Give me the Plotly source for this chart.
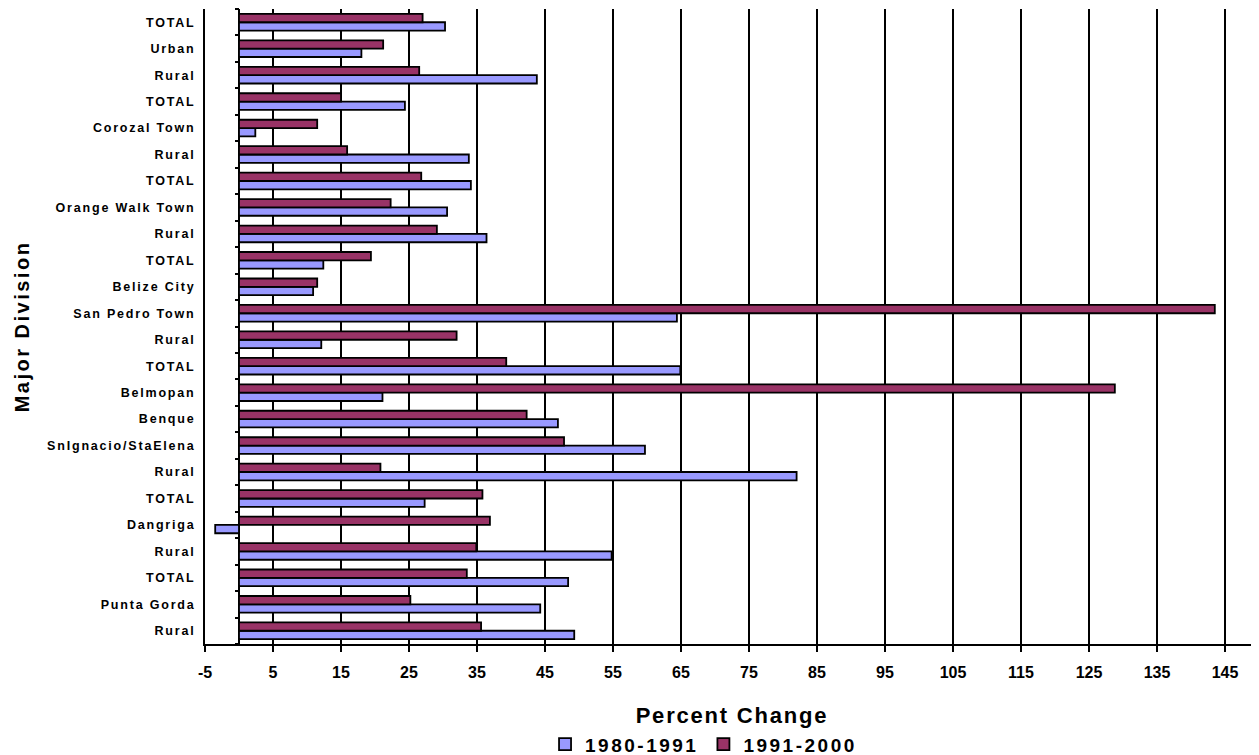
import plotly.graph_objects as go

# ---- data (top to bottom as in the reference) ----
categories = ["TOTAL", "Urban", "Rural", "TOTAL", "Corozal Town", "Rural",
              "TOTAL", "Orange Walk Town", "Rural", "TOTAL", "Belize City",
              "San Pedro Town", "Rural", "TOTAL", "Belmopan", "Benque",
              "SnIgnacio/StaElena", "Rural", "TOTAL", "Dangriga", "Rural",
              "TOTAL", "Punta Gorda", "Rural"]
change_1980_1991 = [30.3, 18.0, 43.8, 24.4, 2.4, 33.8, 34.1, 30.6, 36.4, 12.4,
                    10.9, 64.4, 12.1, 64.9, 21.1, 46.9, 59.7, 82.0, 27.3, -3.5,
                    54.8, 48.4, 44.3, 49.3]
change_1991_2000 = [27.0, 21.2, 26.5, 15.0, 11.5, 15.9, 26.8, 22.3, 29.1, 19.4,
                    11.5, 143.5, 32.0, 39.3, 128.8, 42.3, 47.8, 20.8, 35.8, 36.9,
                    34.9, 33.5, 25.2, 35.6]
series_names = ["1980-1991", "1991-2000"]
x_tick_values = [-5, 5, 15, 25, 35, 45, 55, 65, 75, 85, 95, 105, 115, 125, 135, 145]
x_min, x_max = -5, 150

n = len(categories)
positions = [n - 1 - i for i in range(n)]
boundaries = [p + 0.5 for p in positions] + [-0.5]
FONT = "Liberation Sans, Arial, sans-serif"

def spaced(t, px):
    return f'<span style="letter-spacing:{px}px">{t}</span>'

fig = go.Figure()
fig.add_trace(go.Bar(
    y=positions, x=change_1980_1991, orientation="h", name=spaced(series_names[0], 2.5),
    marker=dict(color="#9999FF", line=dict(color="black", width=1.8)),
))
fig.add_trace(go.Bar(
    y=positions, x=change_1991_2000, orientation="h", name=spaced(series_names[1], 2.5),
    marker=dict(color="#993366", line=dict(color="black", width=1.8)),
))
# empty helper trace so the category axis crossing at zero (with its tick marks) is drawn
fig.add_trace(go.Scatter(x=[], y=[], yaxis="y2", showlegend=False, hoverinfo="skip"))

fig.update_layout(
    width=1251, height=747,
    margin=dict(l=197, r=0, t=1, b=111, autoexpand=False),
    paper_bgcolor="white", plot_bgcolor="white",
    barmode="group", bargap=0.37, bargroupgap=0,
    font=dict(family=FONT, color="black", weight="bold"),
    showlegend=True,
    legend=dict(orientation="h", x=0.473, xanchor="center", y=-0.158, yanchor="middle",
                font=dict(size=19, family=FONT, weight="bold"),
                itemwidth=30, tracegroupgap=0, traceorder="normal",
                bgcolor="rgba(0,0,0,0)"),
    xaxis=dict(
        range=[x_min, x_max], tickvals=x_tick_values,
        ticktext=[str(v) for v in x_tick_values],
        showgrid=True, gridcolor="black", gridwidth=1.8,
        zeroline=True, zerolinecolor="black", zerolinewidth=2,
        showline=True, linecolor="black", linewidth=2,
        ticks="outside", ticklen=6, tickwidth=2, tickcolor="black",
        ticklabelstandoff=7,
        tickfont=dict(size=16, family=FONT, weight="bold"),
        title=dict(text=spaced("Percent Change", 1.8), standoff=27,
                   font=dict(size=22, family=FONT, weight="bold")),
        automargin=False, fixedrange=True,
    ),
    yaxis=dict(
        range=[-0.5, n - 0.5], tickvals=positions,
        ticktext=[spaced(c, 1.8) for c in categories],
        showgrid=False, zeroline=False,
        showline=True, linecolor="black", linewidth=2,
        ticks="", ticklabelstandoff=5,
        tickfont=dict(size=12.5, family=FONT, weight="bold"),
        title=dict(text=spaced("Major Division", 2.5), standoff=12,
                   font=dict(size=20, family=FONT, weight="bold")),
        automargin=False, fixedrange=True,
    ),
    yaxis2=dict(
        overlaying="y", anchor="free", side="left",
        position=(0 - x_min) / (x_max - x_min),
        range=[-0.5, n - 0.5], tickvals=boundaries, showticklabels=False,
        ticks="outside", ticklen=4, tickwidth=2, tickcolor="black",
        showline=False, showgrid=False, zeroline=False,
        automargin=False, fixedrange=True,
    ),
)

fig.write_html("out.html")
